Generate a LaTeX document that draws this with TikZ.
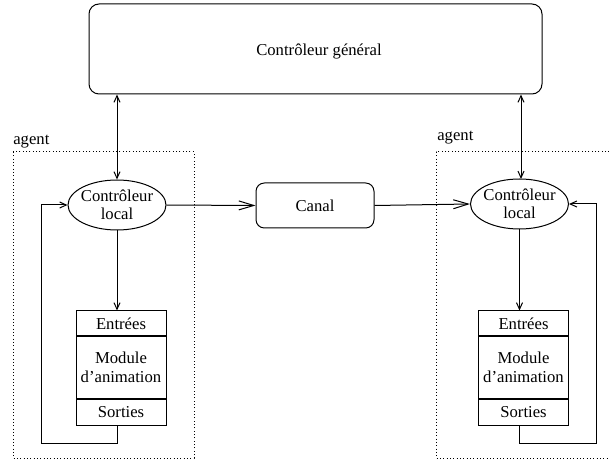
\documentclass[tikz,border=0pt]{standalone}
\usepackage{fontspec}
\setmainfont{Liberation Serif}
\usetikzlibrary{arrows.meta,shapes.geometric}
\begin{document}
\begin{tikzpicture}[x=0.6pt,y=-0.6pt,
  every node/.style={font=\fontsize{10pt}{11pt}\selectfont},
  ln/.style={line width=0.6pt},
  rbox/.style={draw,ln,rounded corners=6pt,inner sep=0pt},
  ell/.style={draw,ln,ellipse,inner sep=0pt,minimum width=58.8pt,minimum height=30pt},
  lbl/.style={align=center,inner sep=0pt},
  mod/.style={draw,ln,rectangle,inner sep=0pt,minimum width=54pt,align=center},
  agentbox/.style={draw,line width=0.6pt,dash pattern=on 0.6pt off 1.4pt},
  sarr/.style={ln,-{Straight Barb[length=4pt,width=3.6pt]}},
  darr/.style={ln,{Straight Barb[length=4pt,width=3.6pt]}-{Straight Barb[length=4pt,width=3.6pt]}},
  larr/.style={ln,-{Straight Barb[length=9pt,width=5.4pt]}}]
\path[use as bounding box,clip] (0,0) rectangle (609,460);
% agent boxes
\draw[agentbox] (13,152) rectangle (194,458);
\draw[agentbox] (436,152) rectangle (640,458);
\node[anchor=base west,inner sep=0pt] (ag1) at (13,145) {agent};
\node[anchor=base west,inner sep=0pt] (ag2) at (437,141) {agent};
% general controller
\node[rbox,minimum width=271.8pt,minimum height=54pt] (gen) at (315.5,49) {};
\node[lbl] (gent) at (319,52) {Contrôleur général};
% canal
\node[rbox,rounded corners=5pt,minimum width=70.8pt,minimum height=27pt] (canal) at (315,205.5) {Canal};
% local controllers
\node[ell] (lc1) at (117,205) {};
\node[lbl] (lc1t) at (117,205) {Contrôleur\\local};
\node[ell] (lc2) at (519.5,204) {};
\node[lbl] (lc2t) at (519.5,204) {Contrôleur\\local};
% modules
\node[mod,minimum height=15pt] (m1a) at (121,323.5) {Entrées};
\node[mod,minimum height=37.8pt,font=\fontsize{10pt}{11.4pt}\selectfont] (m1b) at (121,367.5) {Module\\d’animation};
\node[mod,minimum height=15.6pt] (m1c) at (121,412) {Sorties};
\node[mod,minimum height=15pt] (m2a) at (523.5,323.5) {Entrées};
\node[mod,minimum height=37.8pt,font=\fontsize{10pt}{11.4pt}\selectfont] (m2b) at (523.5,367.5) {Module\\d’animation};
\node[mod,minimum height=15.6pt] (m2c) at (523.5,412) {Sorties};
\coordinate (l1) at (41,443);
\coordinate (r1) at (596,443);
% connectors
\draw[darr] (gen.south -| lc1.north) -- (lc1.north);
\draw[darr] (gen.south -| 521,0) -- (521,179);
\draw[sarr] (lc1.south) -- (lc1.south |- m1a.north);
\draw[sarr] (lc2.south) -- (lc2.south |- m2a.north);
\draw[larr] (lc1.east) -- (canal.west);
\draw[larr] (canal.east) -- (lc2.west);
\draw[sarr] (lc1.south |- m1c.south) |- (l1) |- (lc1.west);
\draw[sarr] (lc2.south |- m2c.south) |- (r1) |- (lc2.east);
\end{tikzpicture}
\end{document}
